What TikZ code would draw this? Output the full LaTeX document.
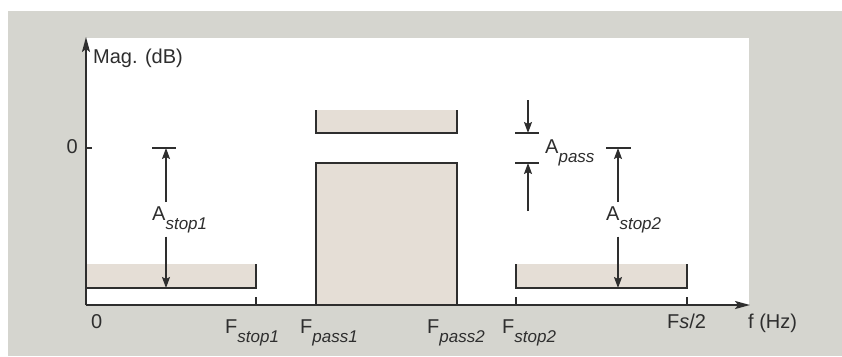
\documentclass[tikz,border=0pt]{standalone}
\usepackage{fontspec}
\setmainfont{Liberation Sans}
\usetikzlibrary{arrows.meta}
\definecolor{ink}{HTML}{2E2E2E}
\definecolor{panelbg}{HTML}{D5D5CF}
\definecolor{bandfill}{HTML}{E5DED6}
\newcommand{\subtxt}[1]{\raisebox{-9pt}{\fontsize{17}{17}\selectfont\itshape #1}}
\tikzset{
  every node/.style={font=\fontsize{20}{24}\selectfont, text=ink},
  lbl/.style={anchor=base west, inner xsep=0pt, inner ysep=4pt},
  axis/.style={-{Stealth[length=15pt, width=8pt, inset=3pt]}, line width=1.8pt, draw=ink},
  edge/.style={line width=1.8pt, draw=ink},
  dimarr/.style={-{Stealth[length=11pt, width=8pt, inset=2pt]}, line width=1.6pt, draw=ink},
  band/.style={fill=bandfill, draw=none},
}

\begin{document}
\begin{tikzpicture}[x=1pt, y=-1pt]
\useasboundingbox (0,0) rectangle (842,356);

% --- backdrop ---
\fill[panelbg] (8,11) rectangle (842,356);
\fill[white] (86,38) rectangle (749,305);

% --- bands ---
\fill[band] (86,264) rectangle (256,288);
\fill[band] (316,163) rectangle (457,305);
\fill[band] (316,110) rectangle (457,133);
\fill[band] (516,264) rectangle (687,288);

\draw[edge] (86,288) -- (256,288) -- (256,264);
\draw[edge] (316,305) -- (316,163) -- (457,163) -- (457,305);
\draw[edge] (316,110) -- (316,133) -- (457,133) -- (457,110);
\draw[edge] (516,264) -- (516,288) -- (687,288) -- (687,264);

% --- axes ---
\coordinate (orig) at (86,305);
\coordinate (ytop) at (86,37);
\coordinate (xend) at (750,305);
\draw[axis] (orig) -- (ytop);
\draw[axis] (orig) -- (xend);

% --- ticks ---
\draw[edge] (86,148) -- (92,148);
\draw[edge] (256,297) -- (256,305);
\draw[edge] (516,297) -- (516,305);
\draw[edge] (687,297) -- (687,305);

% --- labels ---
\node[lbl] (maglbl) at (93,63) {Mag. (dB)};
\node[lbl, anchor=base east] (zeroy) at (78,153) {0};
\node[lbl] (zerox) at (91,328) {0};
\node[lbl] (fstop1) at (225,333) {F\subtxt{stop1}};
\node[lbl] (fpass1) at (300,333) {F\subtxt{pass1}};
\node[lbl] (fpass2) at (427,333) {F\subtxt{pass2}};
\node[lbl] (fstop2) at (502,333) {F\subtxt{stop2}};
\node[lbl] (fshalf) at (667,328) {F\textit{s}/2};
\node[lbl] (fhz) at (748,328) {f (Hz)};
\node[lbl] (astop1) at (152,220) {A\subtxt{stop1}};
\node[lbl] (apass) at (545,153) {A\subtxt{pass}};
\node[lbl] (astop2) at (606,220) {A\subtxt{stop2}};

% --- A_stop1 ---
\coordinate (sonezero) at (166,148);
\coordinate (sonefloor) at (166,288);
\draw[edge] ([xshift=-14pt]sonezero) -- ([xshift=10pt]sonezero);
\draw[dimarr] (sonezero |- astop1.north) -- (sonezero);
\draw[dimarr] (sonezero |- astop1.south) -- (sonefloor);

% --- A_pass ---
\coordinate (ptop) at (528,133);
\coordinate (pbot) at (528,163);
\coordinate (ptailtop) at (528,100);
\coordinate (ptailbot) at (528,211);
\draw[edge] ([xshift=-13pt]ptop) -- ([xshift=11pt]ptop);
\draw[edge] ([xshift=-13pt]pbot) -- ([xshift=11pt]pbot);
\draw[dimarr] (ptailtop) -- (ptop);
\draw[dimarr] (ptailbot) -- (pbot);

% --- A_stop2 ---
\coordinate (stwozero) at (618,148);
\coordinate (stwofloor) at (618,288);
\draw[edge] ([xshift=-12pt]stwozero) -- ([xshift=13pt]stwozero);
\draw[dimarr] (stwozero |- astop2.north) -- (stwozero);
\draw[dimarr] (stwozero |- astop2.south) -- (stwofloor);

\end{tikzpicture}
\end{document}
